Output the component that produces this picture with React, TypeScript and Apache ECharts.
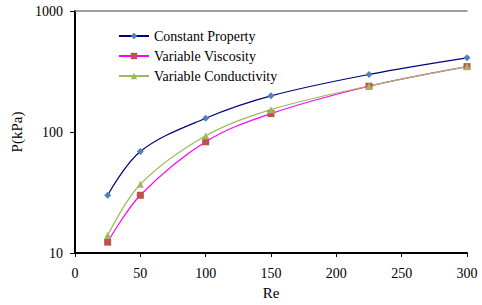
import React, { useEffect, useRef } from "react";
import * as echarts from "echarts";

const reValues = [25, 50, 100, 150, 225, 300];
const constantProperty = [30, 69, 130, 199, 299, 410];
const variableViscosity = [12.3, 30, 83, 142, 239, 347];
const variableConductivity = [14, 37, 93, 153, 240, 347];
const seriesNames = ["Constant Property", "Variable Viscosity", "Variable Conductivity"];

const FONT = "Liberation Serif";

export default function App() {
  const ref = useRef<HTMLDivElement>(null);
  useEffect(() => {
    if (!ref.current) return;
    const chart = echarts.init(ref.current, null, { renderer: "svg" });
    const pair = (ys: number[]) => reValues.map((x, i) => [x, ys[i]]);
    chart.setOption({
      animation: false,
      backgroundColor: "#fff",
      textStyle: { fontFamily: FONT },
      grid: { left: 75, right: 15, top: 11, bottom: 46 },
      legend: {
        orient: "vertical",
        left: 113,
        top: 24,
        itemWidth: 30,
        itemHeight: 8,
        itemGap: 6,
        textStyle: { fontFamily: FONT, fontSize: 14, color: "#000" },
        data: seriesNames,
      },
      xAxis: [
        {
          type: "value",
          min: 0,
          max: 300,
          interval: 50,
          name: "Re",
          nameLocation: "middle",
          nameGap: 32,
          nameTextStyle: { fontFamily: FONT, fontSize: 15, color: "#000" },
          axisLine: { lineStyle: { color: "#000", width: 2 } },
          axisTick: { show: true, length: 4, lineStyle: { color: "#000" } },
          axisLabel: { fontFamily: FONT, fontSize: 14, color: "#000", margin: 13 },
          splitLine: { show: false },
        },
        {
          type: "value",
          position: "top",
          min: 0,
          max: 300,
          axisLine: { show: true, lineStyle: { color: "#808080", width: 1.5 } },
          axisTick: { show: false },
          axisLabel: { show: false },
          splitLine: { show: false },
        },
      ],
      yAxis: [
        {
          type: "log",
          logBase: 10,
          min: 10,
          max: 1000,
          name: "P(kPa)",
          nameLocation: "middle",
          nameGap: 50,
          nameTextStyle: { fontFamily: FONT, fontSize: 15, color: "#000" },
          axisLine: { show: true, lineStyle: { color: "#000", width: 2 } },
          axisTick: { show: true, length: 5, lineStyle: { color: "#000" } },
          axisLabel: {
            fontFamily: FONT,
            fontSize: 14,
            color: "#000",
            margin: 12,
            formatter: (v: number) => String(Math.round(v)),
          },
          splitLine: { show: false },
          minorTick: { show: false },
        },
        {
          type: "log",
          position: "right",
          min: 10,
          max: 1000,
          axisLine: { show: true, lineStyle: { color: "#000", width: 1 } },
          axisTick: { show: false },
          axisLabel: { show: false },
          splitLine: { show: false },
        },
      ],
      series: [
        {
          name: seriesNames[0],
          type: "line",
          data: pair(constantProperty),
          smooth: 0.35,
          symbol: "diamond",
          symbolSize: 7,
          lineStyle: { color: "#000080", width: 1.2 },
          itemStyle: { color: "#4f81bd" },
        },
        {
          name: seriesNames[1],
          type: "line",
          data: pair(variableViscosity),
          smooth: 0.35,
          symbol: "rect",
          symbolSize: 7,
          lineStyle: { color: "#ff00ff", width: 1.2 },
          itemStyle: { color: "#c0504d" },
        },
        {
          name: seriesNames[2],
          type: "line",
          data: pair(variableConductivity),
          smooth: 0.35,
          symbol: "triangle",
          symbolSize: 7,
          lineStyle: { color: "#9bbb59", width: 1.2 },
          itemStyle: { color: "#9bbb59" },
        },
      ],
    });
    return () => chart.dispose();
  }, []);
  return (
    <div
      ref={ref}
      style={{ position: "fixed", left: 0, top: 0, width: 482, height: 305 }}
    />
  );
}
